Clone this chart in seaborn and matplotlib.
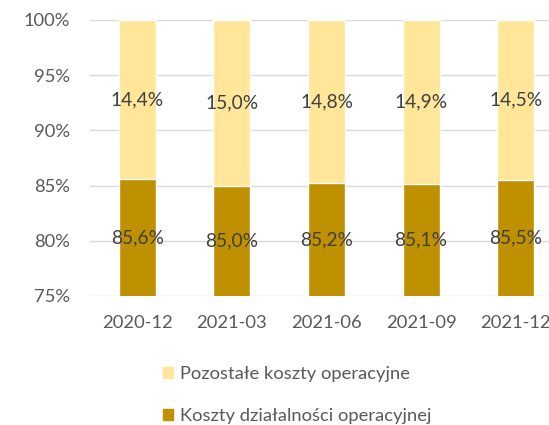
import matplotlib
matplotlib.use("Agg")
import matplotlib.pyplot as plt
import matplotlib.patches as mpatches
import seaborn as sns
import pandas as pd

periods = ["2020-12", "2021-03", "2021-06", "2021-09", "2021-12"]
core_costs = [85.6, 85.0, 85.2, 85.1, 85.5]      # Koszty działalności operacyjnej
other_costs = [14.4, 15.0, 14.8, 14.9, 14.5]     # Pozostałe koszty operacyjne

core_label = "Koszty działalności operacyjnej"
other_label = "Pozostałe koszty operacyjne"

dark_gold = "#BF9000"
light_gold = "#FFE699"
text_grey = "#595959"
label_grey = "#404040"

sns.set_theme(style="white")
plt.rcParams["font.family"] = ["Lato", "DejaVu Sans"]

df = pd.DataFrame({
    "period": periods,
    "core": core_costs,
    "total": [c + o for c, o in zip(core_costs, other_costs)],
})

fig = plt.figure(figsize=(5.49, 4.25), dpi=100)
ax = fig.add_axes([90 / 549, 1 - 296 / 425, 473 / 549, 276 / 425])

sns.barplot(data=df, x="period", y="total", color=light_gold, width=0.39,
            saturation=1, ax=ax, zorder=2)
sns.barplot(data=df, x="period", y="core", color=dark_gold, width=0.39,
            saturation=1, ax=ax, zorder=2)

ymin, ymax = 75, 100
ax.set_ylim(ymin, ymax)
ax.set_xlim(-0.5, 4.5)
ax.set_yticks(range(75, 101, 5))
ax.set_yticklabels([f"{t}%" for t in range(75, 101, 5)])
ax.yaxis.grid(True, color="#D9D9D9", linewidth=1.0, zorder=0)
ax.set_axisbelow(True)
for s in ax.spines.values():
    s.set_visible(False)
ax.set_xlabel("")
ax.set_ylabel("")
ax.tick_params(axis="both", length=0, labelsize=13.2, colors=text_grey)
ax.tick_params(axis="y", pad=14.5)
ax.tick_params(axis="x", pad=14)

for i, (c, o) in enumerate(zip(core_costs, other_costs)):
    ax.text(i, (ymin + c) / 2, f"{c:.1f}%".replace(".", ","), ha="center",
            va="center", fontsize=13.8, color=label_grey, zorder=3)
    ax.text(i, c + o / 2, f"{o:.1f}%".replace(".", ","), ha="center",
            va="center", fontsize=13.8, color=label_grey, zorder=3)

handles = [mpatches.Patch(color=light_gold, label=other_label),
           mpatches.Patch(color=dark_gold, label=core_label)]
leg = fig.legend(handles=handles, loc="center left",
                 bbox_to_anchor=(146 / 549, 1 - 395 / 425), frameon=False,
                 fontsize=13.2, labelspacing=1.38, handlelength=0.55,
                 handleheight=0.55, handletextpad=0.42)
for t in leg.get_texts():
    t.set_color(text_grey)

fig.savefig("out.png", dpi=100)
